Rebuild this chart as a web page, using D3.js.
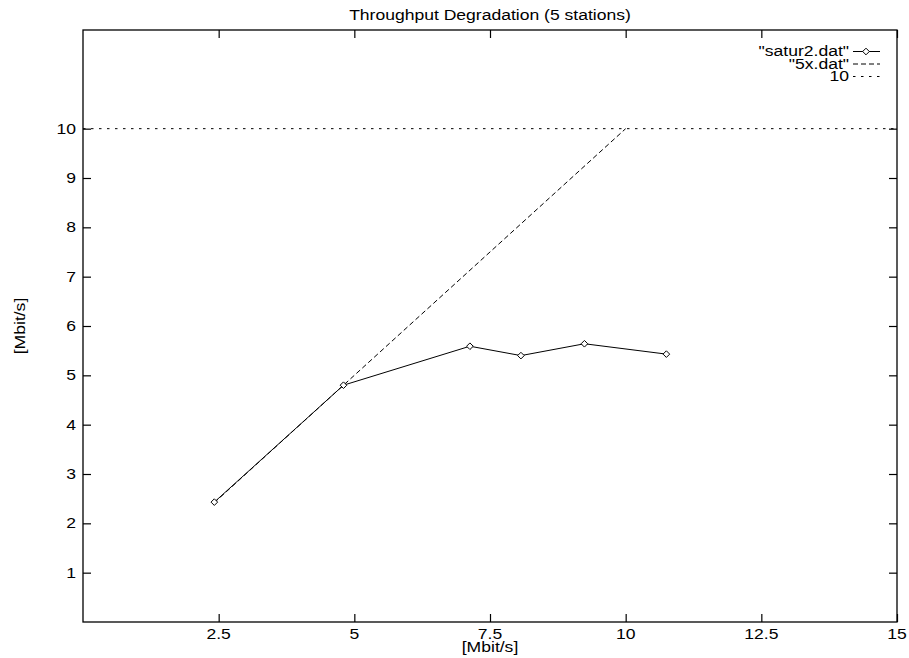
<!DOCTYPE html>
<html>
<head>
<meta charset="utf-8">
<script src="https://cdn.jsdelivr.net/npm/d3@7"></script>
<style>
  html, body { margin: 0; padding: 0; background: #fff; }
  svg { display: block; }
  text { font-family: "Liberation Sans", Arial, Helvetica, sans-serif; fill: #000; }
</style>
</head>
<body>
<svg id="chart" width="909" height="658"></svg>
<script>
// ---- data ----
const title = "Throughput Degradation (5 stations)";
const xLabel = "[Mbit/s]";
const yLabel = "[Mbit/s]";
const saturX = [2.42, 4.80, 7.13, 8.07, 9.24, 10.75];
const saturY = [2.43, 4.80, 5.59, 5.40, 5.64, 5.43];
const fiveX = [2.42, 4.80, 10];
const fiveY = [2.42, 4.80, 10];
const constLevel = 10;
const xTicks = [2.5, 5, 7.5, 10, 12.5, 15];
const yTicks = [1, 2, 3, 4, 5, 6, 7, 8, 9, 10];
const legendLabels = ['"satur2.dat"', '"5x.dat"', '10'];

// ---- layout ----
const svg = d3.select("#chart");
const L = 83, R = 897, T = 30, B = 622;
const FS = 15, SX = 1.17; // font size and horizontal stretch
const x = d3.scaleLinear().domain([0, 15]).range([L, R]);
const y = d3.scaleLinear().domain([0, 12]).range([B, T]);

function txt(g, s, px, py, anchor, rot) {
  return g.append("text")
    .attr("transform", `translate(${px},${py}) rotate(${rot || 0}) scale(${SX},1)`)
    .attr("text-anchor", anchor)
    .style("font-size", FS + "px")
    .text(s);
}

// axes with inward ticks (mirrored on all sides)
const tickLen = 8;
const gx = svg.append("g").attr("transform", `translate(0,${B})`)
  .call(d3.axisBottom(x).tickValues(xTicks).tickSize(-tickLen).tickFormat(""));
const gxt = svg.append("g").attr("transform", `translate(0,${T})`)
  .call(d3.axisTop(x).tickValues(xTicks).tickSize(-tickLen).tickFormat(""));
const gy = svg.append("g").attr("transform", `translate(${L},0)`)
  .call(d3.axisLeft(y).tickValues(yTicks).tickSize(-tickLen).tickFormat(""));
const gyr = svg.append("g").attr("transform", `translate(${R},0)`)
  .call(d3.axisRight(y).tickValues(yTicks).tickSize(-tickLen).tickFormat(""));
[gx, gxt, gy, gyr].forEach(g => {
  g.select(".domain").remove();
  g.selectAll(".tick line").attr("stroke", "#000").attr("stroke-width", 1.2);
});

// tick labels
xTicks.forEach(v => txt(svg, d3.format("")(v), x(v), 639, "middle"));
yTicks.forEach(v => txt(svg, String(v), 76, y(v) + 5, "end"));

// border
svg.append("rect").attr("x", L).attr("y", T).attr("width", R - L).attr("height", B - T)
  .attr("fill", "none").attr("stroke", "#000").attr("stroke-width", 1.3);

// titles
txt(svg, title, (L + R) / 2, 20, "middle");
txt(svg, xLabel, (L + R) / 2, 652, "middle");
txt(svg, yLabel, 25, (T + B) / 2, "middle", -90);

// constant line 10 (dotted)
const lineGen = d3.line().x(d => x(d[0])).y(d => y(d[1]));
svg.append("path")
  .datum([[0, constLevel], [15, constLevel]])
  .attr("d", lineGen).attr("fill", "none").attr("stroke", "#000")
  .attr("stroke-width", 1).attr("stroke-dasharray", "2.5,5.5");

// 5x.dat (dashed)
svg.append("path")
  .datum(fiveX.map((v, i) => [v, fiveY[i]]))
  .attr("d", lineGen).attr("fill", "none").attr("stroke", "#000")
  .attr("stroke-width", 1).attr("stroke-dasharray", "5,3");

// satur2.dat (solid with diamonds)
const satur = saturX.map((v, i) => [v, saturY[i]]);
svg.append("path").datum(satur)
  .attr("d", lineGen).attr("fill", "none").attr("stroke", "#000").attr("stroke-width", 1);
const diamond = d3.symbol().type(d3.symbolDiamond2).size(28);
svg.selectAll(".pt").data(satur).join("path")
  .attr("class", "pt")
  .attr("transform", d => `translate(${x(d[0])},${y(d[1])})`)
  .attr("d", diamond).attr("fill", "#fff").attr("stroke", "#000").attr("stroke-width", 1);

// legend
const legRows = [56, 68.5, 81];
const dashes = [null, "5,3", "2.5,5.5"];
legendLabels.forEach((lab, i) => {
  txt(svg, lab, 849, legRows[i], "end");
  const ly = legRows[i] - 4.5;
  svg.append("line").attr("x1", 853).attr("x2", 880).attr("y1", ly).attr("y2", ly)
    .attr("stroke", "#000").attr("stroke-width", 1)
    .attr("stroke-dasharray", dashes[i]);
  if (i === 0) {
    svg.append("path").attr("transform", `translate(866,${ly})`)
      .attr("d", diamond).attr("fill", "#fff").attr("stroke", "#000");
  }
});
</script>
</body>
</html>
